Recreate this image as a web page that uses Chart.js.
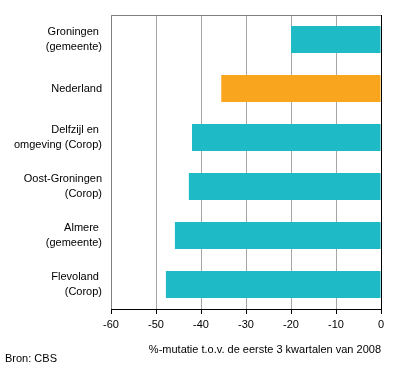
<!DOCTYPE html>
<html lang="nl">
<head>
<meta charset="UTF-8">
<title>Mutatie per regio</title>
<script src="https://cdn.jsdelivr.net/npm/chart.js"></script>
<style>
  body { margin: 0; background: #fff; }
  #grafiek { display: block; }
</style>
</head>
<body>
<canvas id="grafiek" width="396" height="368"></canvas>
<script>
// regio's (twee regels waar nodig)
const regios = [
  ['Groningen ', '(gemeente)'],
  ['Nederland'],
  ['Delfzijl en ', 'omgeving (Corop)'],
  ['Oost-Groningen', '(Corop)'],
  ['Almere ', '(gemeente)'],
  ['Flevoland ', '(Corop)']
];
// %-mutatie t.o.v. de eerste 3 kwartalen van 2008
const mutatie = [-20, -35.5, -42, -42.7, -45.8, -47.8];
const kleuren = ['#1ebbc6', '#f9a61e', '#1ebbc6', '#1ebbc6', '#1ebbc6', '#1ebbc6'];

const asTitel = '%-mutatie t.o.v. de eerste 3 kwartalen van 2008';
const bron = 'Bron: CBS';

const lettertype = { family: 'Arial, "Liberation Sans", sans-serif', size: 11 };

// rand boven en links, plus bronvermelding
const extraTekening = {
  id: 'extraTekening',
  afterDraw(chart) {
    const c = chart.ctx;
    const a = chart.chartArea;
    c.save();
    c.strokeStyle = '#808080';
    c.lineWidth = 1;
    c.beginPath();
    c.moveTo(Math.round(a.left) + 0.5, Math.round(a.bottom));
    c.lineTo(Math.round(a.left) + 0.5, Math.round(a.top) + 0.5);
    c.lineTo(Math.round(a.right), Math.round(a.top) + 0.5);
    c.stroke();
    c.fillStyle = '#000';
    c.font = '11px Arial, "Liberation Sans", sans-serif';
    c.textBaseline = 'alphabetic';
    c.textAlign = 'left';
    c.fillText(bron, 5, 362);
    c.restore();
  }
};

const ctx = document.getElementById('grafiek').getContext('2d');
new Chart(ctx, {
  type: 'bar',
  data: {
    labels: regios,
    datasets: [{
      data: mutatie,
      backgroundColor: kleuren,
      borderWidth: 0,
      barPercentage: 0.55,
      categoryPercentage: 1
    }]
  },
  options: {
    indexAxis: 'y',
    responsive: false,
    animation: false,
    layout: { padding: { top: 15, right: 15, bottom: 8, left: 0 } },
    plugins: {
      legend: { display: false },
      tooltip: { enabled: false }
    },
    scales: {
      x: {
        min: -60,
        max: 0,
        ticks: { stepSize: 10, color: '#000', font: lettertype, padding: 4 },
        grid: {
          color: c => c.tick && c.tick.value === 0 ? '#000' : '#a6a6a6',
          tickColor: '#000',
          tickLength: 5
        },
        border: { color: '#000' },
        title: {
          display: true,
          text: asTitel,
          align: 'end',
          color: '#000',
          font: lettertype,
          padding: { top: 8, bottom: 3 }
        },
        afterFit(s) { s.height = 51; }
      },
      y: {
        ticks: { color: '#000', font: { ...lettertype, lineHeight: 1.36 }, padding: 9 },
        grid: { display: false, drawTicks: false },
        border: { display: false },
        afterFit(s) { s.width = 111; s.paddingTop = 0; s.paddingBottom = 0; }
      }
    }
  },
  plugins: [extraTekening]
});
</script>
</body>
</html>
